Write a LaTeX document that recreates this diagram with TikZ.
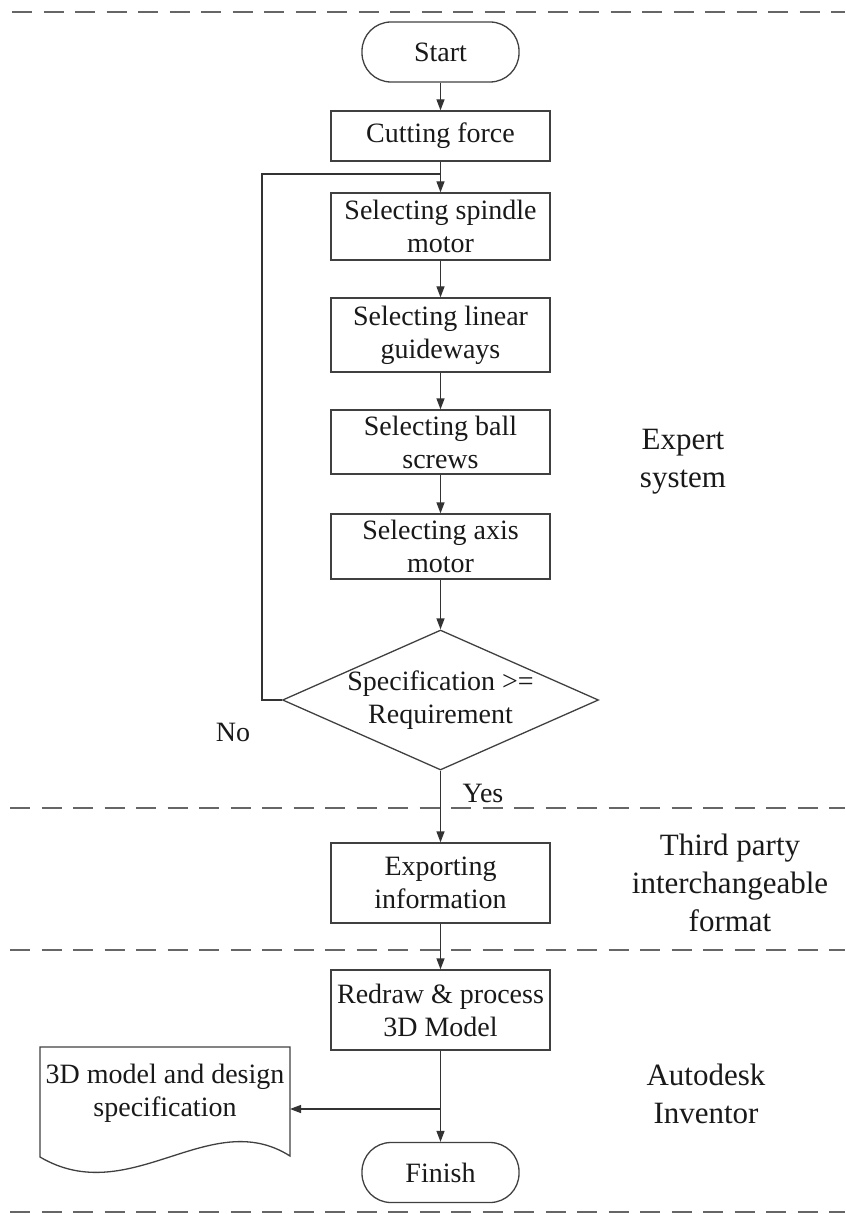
\documentclass[tikz,border=0pt]{standalone}
\usepackage{fontspec}
\setmainfont{Liberation Serif}
\usetikzlibrary{shapes.geometric,arrows.meta}

\begin{document}
\begin{tikzpicture}[x=1pt,y=-1pt]
        \tikzstyle{every node}+=[inner sep=0pt, text=black!90]
        \tikzstyle{boxtxt}=[font=\fontsize{28}{33}\selectfont, align=center]
        \tikzstyle{proc}=[boxtxt, draw=black!75, line width=1.3pt, minimum width=219pt]
        \tikzstyle{term}=[proc, rounded corners=29pt, minimum width=157pt, minimum height=60pt]
        \tikzstyle{decision}=[diamond, draw=black!75, line width=1.3pt, minimum width=316pt, minimum height=140pt]
        \tikzstyle{side}=[font=\fontsize{31}{38}\selectfont, align=center]
        \tikzstyle{flow}=[draw=black!80, line width=1.3pt, -{Triangle[length=11pt,width=8pt]}]
        \tikzstyle{lane}=[draw=black!60, line width=2pt, dash pattern=on 20pt off 11.5pt]
        \useasboundingbox (0,0) rectangle (845,1214);
        \draw [lane] (12,12) -- (845,12);
        \draw [lane] (10,808) -- (845,808);
        \draw [lane] (10,950) -- (845,950);
        \draw [lane] (10,1212) -- (845,1212);
        \node [term] (start) at (440.5,52) {Start};
        \node [proc, minimum height=50pt] (force) at (440.5,136) {Cutting force};
        \node [proc, minimum height=67pt] (spindle) at (440.5,226.5) {Selecting spindle\\motor};
        \node [proc, minimum height=74pt] (guide) at (440.5,335) {Selecting linear\\guideways};
        \node [proc, minimum height=64pt] (screw) at (440.5,442) {Selecting ball\\screws};
        \node [proc, minimum height=65pt] (axis) at (440.5,546.5) {Selecting axis\\motor};
        \node [decision] (check) at (440.5,700) {};
        \node [boxtxt] (checktxt) at (440.5,700) {Specification >=\\Requirement};
        \node [proc, minimum height=80pt] (export) at (440.5,883) {Exporting\\information};
        \node [proc, minimum height=80pt] (redraw) at (440.5,1010) {Redraw \& process\\3D Model};
        \node [term] (finish) at (440.5,1172.5) {Finish};
        \draw [draw=black!75, line width=1.3pt] (40,1047) -- (290,1047) -- (290,1156)
              .. controls (210,1105) and (130,1210) .. (40,1157) -- cycle;
        \node [boxtxt] (doc) at (165,1093) {3D model and design\\specification};
        \node [boxtxt] (no) at (233,732) {No};
        \node [boxtxt] (yes) at (483,793) {Yes};
        \node [side] (expert) at (683,462) {Expert\\system};
        \node [side] (third) at (730,883) {Third party\\interchangeable\\format};
        \node [side] (inventor) at (706,1094) {Autodesk\\Inventor};
        \coordinate (loop) at (440.5,174);
        \coordinate (split) at (440.5,1109);
        \coordinate (docin) at (290,1109);
        \draw [flow] (start) -- (force);
        \draw [flow] (force) -- (spindle);
        \draw [flow] (spindle) -- (guide);
        \draw [flow] (guide) -- (screw);
        \draw [flow] (screw) -- (axis);
        \draw [flow] (axis) -- (check);
        \draw [flow] (check) -- (export);
        \draw [flow] (export) -- (redraw);
        \draw [flow] (redraw) -- (finish);
        \draw [flow] (split) -- (docin);
        \draw [draw=black!80, line width=1.3pt] (check.west) -- ++(-20,0) |- (loop);
\end{tikzpicture}
\end{document}
